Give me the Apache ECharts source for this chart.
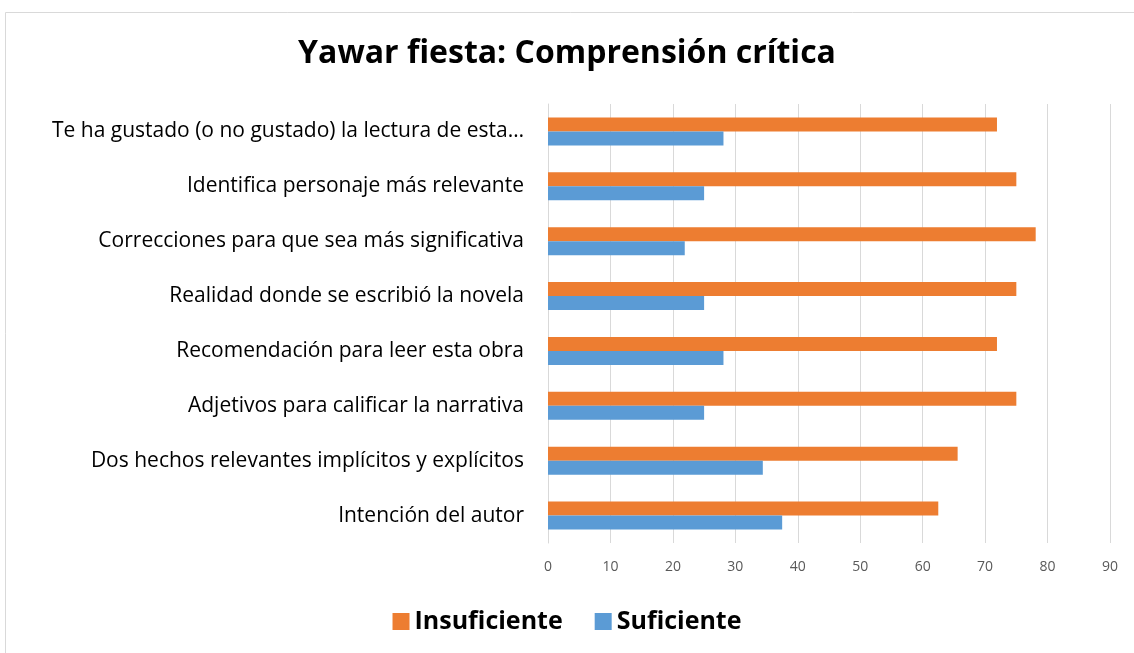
<!DOCTYPE html>
<html>
<head>
<meta charset="utf-8">
<script src="https://cdn.jsdelivr.net/npm/echarts@6/dist/echarts.min.js"></script>
<style>
  html, body { margin: 0; padding: 0; background: #fff; }
  #chart { width: 1134px; height: 653px; }
</style>
</head>
<body>
<div id="chart"></div>
<script>
// categories, top to bottom
var categories = [
  "Te ha gustado (o no gustado) la lectura de esta…",
  "Identifica personaje más relevante",
  "Correcciones para que sea más significativa",
  "Realidad donde se escribió la novela",
  "Recomendación para leer esta obra",
  "Adjetivos para calificar la narrativa",
  "Dos hechos relevantes implícitos y explícitos",
  "Intención del autor"
];
var insuficiente = [71.9, 75, 78.1, 75, 71.9, 75, 65.6, 62.5];
var suficiente = [28.1, 25, 21.9, 25, 28.1, 25, 34.4, 37.5];
var xTicks = [0, 10, 20, 30, 40, 50, 60, 70, 80, 90];

var myChart = echarts.init(document.getElementById("chart"));
var font = "'Open Sans', 'Noto Sans', sans-serif";

var option = {
  backgroundColor: "#fff",
  animation: false,
  graphic: [
    {
      type: "rect",
      shape: { x: 5.5, y: 12.5, width: 1140, height: 660 },
      style: { fill: "none", stroke: "#d9d9d9", lineWidth: 1 },
      silent: true
    }
  ],
  title: {
    text: "Yawar fiesta: Comprensión crítica",
    left: "center",
    top: 33,
    textStyle: { fontFamily: font, fontSize: 32, fontWeight: "bold", color: "#000" }
  },
  legend: {
    data: ["Insuficiente", "Suficiente"],
    top: 604,
    left: "center",
    itemWidth: 17,
    itemHeight: 17,
    itemGap: 32,
    icon: "rect",
    textStyle: { fontFamily: font, fontSize: 25, fontWeight: "bold", color: "#000" }
  },
  grid: {
    left: 548,
    right: 24,
    top: 104,
    height: 439,
    containLabel: false
  },
  xAxis: {
    type: "value",
    min: 0,
    max: 90,
    interval: 10,
    axisLine: { show: false },
    axisTick: { show: false },
    splitLine: { lineStyle: { color: "#d9d9d9", width: 1 } },
    axisLabel: {
      fontFamily: font,
      fontSize: 14,
      color: "#595959",
      margin: 17,
      formatter: function (v) { return xTicks.indexOf(v) >= 0 ? String(v) : ""; }
    }
  },
  yAxis: {
    type: "category",
    inverse: true,
    data: categories,
    axisLine: { lineStyle: { color: "#d9d9d9" } },
    axisTick: { show: false },
    axisLabel: {
      fontFamily: font,
      fontSize: 21,
      color: "#000",
      margin: 24
    }
  },
  series: [
    {
      name: "Insuficiente",
      type: "bar",
      data: insuficiente,
      barWidth: 14,
      barGap: "0%",
      itemStyle: { color: "#ED7D31" }
    },
    {
      name: "Suficiente",
      type: "bar",
      data: suficiente,
      barWidth: 14,
      barGap: "0%",
      itemStyle: { color: "#5B9BD5" }
    }
  ]
};

option && myChart.setOption(option);
</script>
</body>
</html>
